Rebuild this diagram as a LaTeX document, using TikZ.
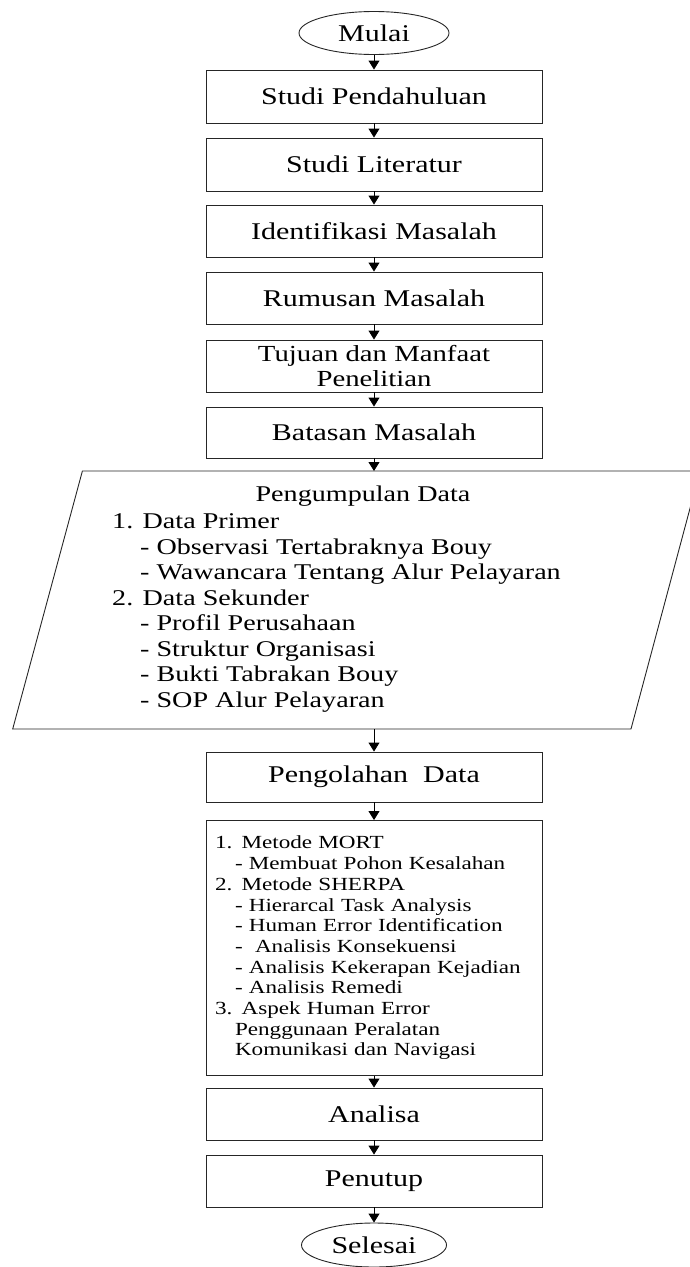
\documentclass[tikz,border=0pt]{standalone}
\usepackage{fontspec}
\setmainfont{Liberation Serif}[FakeStretch=1.25]
\usetikzlibrary{shapes.geometric,arrows.meta}
\begin{document}
\begin{tikzpicture}[x=1pt,y=-1pt,
  box/.style={draw=black!85, line width=0.9pt, rectangle, minimum width=336pt, minimum height=52pt, inner sep=0pt, align=center, font=\fontsize{24}{25}\selectfont},
  term/.style={draw=black!85, line width=0.9pt, ellipse, minimum width=150pt, minimum height=43pt, inner sep=0pt, font=\fontsize{24}{25}\selectfont},
  outline/.style={draw=black!85, line width=0.9pt},
  flow/.style={draw=black, line width=0.9pt, -{Triangle[length=9pt,width=11pt]}},
  ptext/.style={inner sep=0pt, font=\fontsize{22.5}{25.5}\selectfont, align=left},
]
\useasboundingbox (0,0) rectangle (689,1267);

\node[term] (mulai) at (374,33) {Mulai};
\node[box, minimum height=53pt] (sp) at (374,96.5) {Studi Pendahuluan};
\node[box, minimum height=53pt] (sl) at (374,164.5) {Studi Literatur};
\node[box] (im) at (374,231) {Identifikasi Masalah};
\node[box] (rm) at (374,298) {Rumusan Masalah};
\node[box, font=\fontsize{23}{25}\selectfont] (tm) at (374,366) {Tujuan dan Manfaat\\Penelitian};
\node[box, minimum height=51pt] (bm) at (374,432.5) {Batasan Masalah};

% parallelogram (input / output)
\coordinate (pTL) at (82.4,471);
\coordinate (pTR) at (700,471);
\coordinate (pBR) at (631,729);
\coordinate (pBL) at (12.7,729);
\coordinate (pin) at (374,471);
\coordinate (pout) at (374,729);
\draw[outline] (pBL) -- (pTL) -- (pTR) -- (pBR) -- cycle;
\node[ptext] (pdtitle) at (363,496) {Pengumpulan Data};
\node[ptext, anchor=west] (pdlist) at (112,613) {1. Data Primer\\
\hspace*{28pt}- Observasi Tertabraknya Bouy\\
\hspace*{28pt}- Wawancara Tentang Alur Pelayaran\\
2. Data Sekunder\\
\hspace*{28pt}- Profil Perusahaan\\
\hspace*{28pt}- Struktur Organisasi\\
\hspace*{28pt}- Bukti Tabrakan Bouy\\
\hspace*{28pt}- SOP Alur Pelayaran};

\node[box, minimum height=50pt] (po) at (374,777) {Pengolahan\ \ Data};
\node[box, minimum height=255pt, text width=318pt, align=left, font=\fontsize{18.5}{20.7}\selectfont] (mt) at (374,948) {1. Metode MORT\\
\hspace*{20pt}- Membuat Pohon Kesalahan\\
2. Metode SHERPA\\
\hspace*{20pt}- Hierarcal Task Analysis\\
\hspace*{20pt}- Human Error Identification\\
\hspace*{20pt}-\ \ Analisis Konsekuensi\\
\hspace*{20pt}- Analisis Kekerapan Kejadian\\
\hspace*{20pt}- Analisis Remedi\\
3. Aspek Human Error\\
\hspace*{20pt}Penggunaan Peralatan\\
\hspace*{20pt}Komunikasi dan Navigasi};
\node[box] (an) at (374,1114) {Analisa};
\node[box] (pe) at (374,1181) {Penutup};
\node[term, minimum width=145pt, minimum height=44pt] (se) at (374,1245) {Selesai};

\draw[flow] (mulai) -- (sp);
\draw[flow] (sp) -- (sl);
\draw[flow] (sl) -- (im);
\draw[flow] (im) -- (rm);
\draw[flow] (rm) -- (tm);
\draw[flow] (tm) -- (bm);
\draw[flow] (bm) -- (pin);
\draw[flow] (pout) -- (po);
\draw[flow] (po) -- (mt);
\draw[flow] (mt) -- (an);
\draw[flow] (an) -- (pe);
\draw[flow] (pe) -- (se);
\end{tikzpicture}
\end{document}
